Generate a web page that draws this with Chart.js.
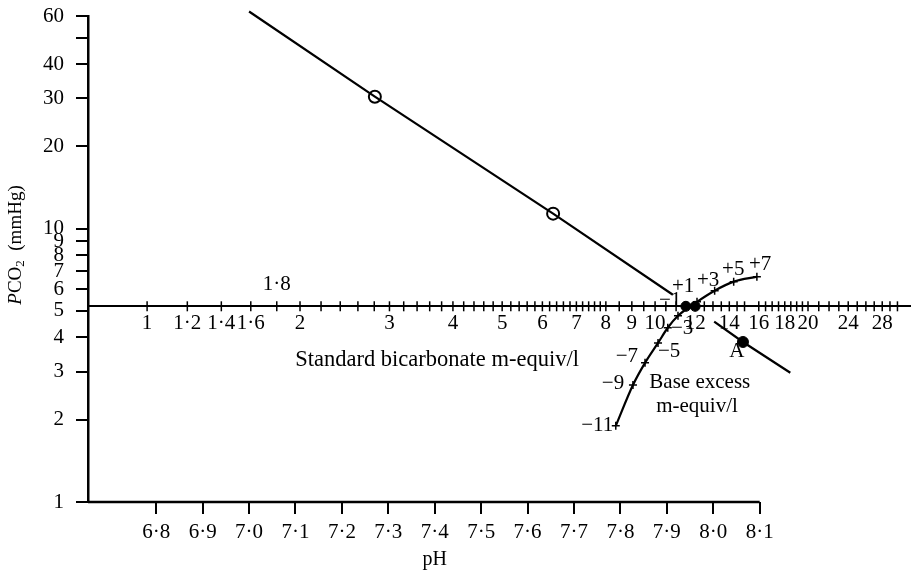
<!DOCTYPE html>
<html><head><meta charset="utf-8">
<script src="https://cdn.jsdelivr.net/npm/chart.js@4.4.1/dist/chart.umd.min.js"></script>
<style>html,body{margin:0;padding:0;background:#fff;overflow:hidden}#wrap{width:911px;height:576px;position:relative}</style>
</head><body><div id="wrap"><canvas id="c"></canvas></div>
<script>
// ---- axes ----
const phTicks = [6.8, 6.9, 7.0, 7.1, 7.2, 7.3, 7.4, 7.5, 7.6, 7.7, 7.8, 7.9, 8.0, 8.1];
const pco2Ticks = [1, 2, 3, 4, 5, 6, 7, 8, 9, 10, 20, 30, 40, 50, 60];
const pco2Labelled = [1, 2, 3, 4, 5, 6, 7, 8, 9, 10, 20, 30, 40, 60];
// standard bicarbonate scale (m-equiv/l), drawn along PCO2 = hco3Level
const hco3Level = 5.2;
const hco3Labels = [1, 1.2, 1.4, 1.6, 2, 3, 4, 5, 6, 7, 8, 9, 10, 12, 14, 16, 18, 20, 24, 28];
const hco3Marks = [1, 1.2, 1.4, 1.6, 1.8, 2, 2.2, 2.4, 2.6, 2.8, 3, 3.2, 3.4, 3.6, 3.8, 4, 4.2, 4.4, 4.6, 4.8,
  5, 5.2, 5.4, 5.6, 5.8, 6, 6.2, 6.4, 6.6, 6.8, 7, 7.2, 7.4, 7.6, 7.8, 8, 8.5, 9, 9.5, 10, 10.5, 11, 11.5,
  12, 12.5, 13, 13.5, 14, 14.5, 15, 16, 16.5, 17, 17.5, 18, 18.5, 19, 19.5, 20, 21, 22, 23, 24, 25, 26, 27, 28, 29, 30];

// ---- CO2 equilibration line ----
const linePH = [7.00, 7.271, 7.655, 7.913, 7.96, 8.002, 8.064, 8.166];
const linePCO2 = [62.3, 30.4, 11.35, 5.73, null, 4.57, 3.85, 2.97];
const circlePH = [7.271, 7.655];
const circlePCO2 = [30.4, 11.35];
const pointAPH = [8.064];
const pointAPCO2 = [3.85];
const junctionPH = [7.941, 7.961];
const junctionPCO2 = [5.2, 5.2];

// ---- base excess curve ----
const beValues = [-11, -9, -7, -5, -3, -1, 1, 3, 5, 7];
const bePH = [7.790, 7.827, 7.853, 7.881, 7.902, 7.924, 7.965, 8.003, 8.044, 8.094];
const bePCO2 = [1.90, 2.68, 3.23, 3.82, 4.34, 4.80, 5.40, 5.93, 6.40, 6.67];

// ---- range ----
const phMin = 6.653, phMax = 8.426;
const pco2Min = 1, pco2Max = 60;
const hco3Min = 0.765, hco3Max = 31.9;

const pts = (xs, ys) => xs.map((x, i) => ({x: x, y: ys[i]}));
const dot = v => String(v).replace('.', '\u00B7');
const SERIF = "'Liberation Serif', 'Times New Roman', serif";

// text annotations (anchored in data coordinates)
const notes = [
  {t: '1\u00B78', ax: 'hco3', x: 1.8, y: 6.24},
  {t: 'Standard bicarbonate m-equiv/l', x: 7.405, y: 3.31, size: 22.5},
  {t: 'Base excess', x: 7.971, y: 2.73},
  {t: 'm-equiv/l', x: 7.965, y: 2.23},
  {t: 'A', x: 8.051, y: 3.54},
  {t: '\u221211', x: 7.750, y: 1.91},
  {t: '\u22129', x: 7.784, y: 2.71},
  {t: '\u22127', x: 7.814, y: 3.40},
  {t: '\u22125', x: 7.905, y: 3.54},
  {t: '\u22123', x: 7.933, y: 4.30},
  {t: '\u22121', x: 7.907, y: 5.45},
  {t: '+1', x: 7.935, y: 6.13},
  {t: '+3', x: 7.989, y: 6.45},
  {t: '+5', x: 8.043, y: 7.07},
  {t: '+7', x: 8.101, y: 7.38}
];

const notesPlugin = {
  id: 'notes',
  afterDatasetsDraw(chart) {
    const {ctx, scales, chartArea} = chart;
    ctx.save();
    ctx.fillStyle = '#000';
    ctx.textBaseline = 'middle';
    ctx.textAlign = 'center';
    for (const n of notes) {
      ctx.font = (n.size || 21) + 'px ' + SERIF;
      const px = scales[n.ax || 'x'].getPixelForValue(n.x);
      const py = scales.y.getPixelForValue(n.y);
      ctx.fillText(n.t, px, py);
    }
    // x title "pH"
    ctx.font = '20px ' + SERIF;
    ctx.fillText('pH', scales.x.getPixelForValue(7.4), chartArea.bottom + 58);
    // y title "PCO2 (mmHg)"
    const parts = [
      {t: 'P', f: 'italic 19px ' + SERIF, dy: 0},
      {t: 'CO', f: '19px ' + SERIF, dy: 0},
      {t: '2', f: '13px ' + SERIF, dy: 5},
      {t: '  (mmHg)', f: '19px ' + SERIF, dy: 0}
    ];
    let total = 0;
    for (const p of parts) { ctx.font = p.f; p.w = ctx.measureText(p.t).width; total += p.w; }
    ctx.translate(16, (chartArea.top + chartArea.bottom) / 2 - 14);
    ctx.rotate(-Math.PI / 2);
    ctx.textAlign = 'left';
    let cx = -total / 2;
    for (const p of parts) { ctx.font = p.f; ctx.fillText(p.t, cx, p.dy); cx += p.w; }
    ctx.restore();
  }
};

const tickFont = {family: SERIF, size: 21};

new Chart(document.getElementById('c'), {
  type: 'line',
  data: {
    datasets: [
      { // pH axis baseline
        data: pts([phMin, 8.1], [pco2Min, pco2Min]),
        borderColor: '#000', borderWidth: 2.5, pointRadius: 0, clip: false
      },
      { // CO2 equilibration line
        data: pts(linePH, linePCO2),
        borderColor: '#000', borderWidth: 2.2, pointRadius: 0, spanGaps: false, clip: false
      },
      { // base excess curve
        data: pts(bePH, bePCO2),
        borderColor: '#000', borderWidth: 2.2, cubicInterpolationMode: 'monotone',
        pointStyle: 'cross', pointRadius: 4, pointBorderWidth: 1.5, pointBorderColor: '#000', clip: false
      },
      { // bicarbonate scale marks
        xAxisID: 'hco3',
        data: hco3Marks.map(v => ({x: v, y: hco3Level})),
        showLine: false, pointStyle: 'line', rotation: 90, pointRadius: 5,
        pointBorderWidth: 1.5, pointBorderColor: '#000', clip: false
      },
      { // open circles
        data: pts(circlePH, circlePCO2),
        showLine: false, pointRadius: 6, pointBorderWidth: 2,
        pointBorderColor: '#000', pointBackgroundColor: '#fff', clip: false
      },
      { // point A
        data: pts(pointAPH, pointAPCO2),
        showLine: false, pointRadius: 5.5, pointBorderWidth: 1,
        pointBorderColor: '#000', pointBackgroundColor: '#000', clip: false
      },
      { // junction
        data: pts(junctionPH, junctionPCO2),
        showLine: false, pointRadius: 5, pointBorderWidth: 1,
        pointBorderColor: '#000', pointBackgroundColor: '#000', clip: false
      }
    ]
  },
  options: {
    responsive: true, maintainAspectRatio: false, animation: false,
    layout: {autoPadding: false, padding: {top: 16, right: 0, bottom: 0, left: 0}},
    plugins: {legend: {display: false}, tooltip: {enabled: false}},
    elements: {line: {tension: 0}},
    scales: {
      x: {
        type: 'linear', position: 'bottom', min: phMin, max: phMax,
        afterBuildTicks: s => { s.ticks = phTicks.map(v => ({value: v})); },
        afterFit: s => { s.height = 74; s.paddingLeft = 0; s.paddingRight = 0; },
        border: {display: false},
        grid: {drawOnChartArea: false, drawTicks: true, tickLength: 12, color: '#000', lineWidth: 2},
        ticks: {autoSkip: false, maxRotation: 0, padding: 6, color: '#000', font: tickFont,
          callback: v => Number(v).toFixed(1).replace('.', '\u00B7')}
      },
      y: {
        type: 'logarithmic', position: 'left', min: pco2Min, max: pco2Max,
        afterBuildTicks: s => { s.ticks = pco2Ticks.map(v => ({value: v})); },
        afterFit: s => { s.width = 88; s.paddingTop = 0; s.paddingBottom = 0; },
        border: {display: true, color: '#000', width: 2.5},
        grid: {drawOnChartArea: false, drawTicks: true, tickLength: 12, color: '#000', lineWidth: 2},
        ticks: {autoSkip: false, padding: 12, color: '#000', font: tickFont,
          callback: v => pco2Labelled.includes(v) ? String(v) : ''}
      },
      hco3: {
        type: 'logarithmic', axis: 'x', position: {y: hco3Level}, min: hco3Min, max: hco3Max,
        afterBuildTicks: s => { s.ticks = hco3Labels.map(v => ({value: v})); },
        afterFit: s => { s.paddingLeft = 0; s.paddingRight = 0; },
        border: {display: true, color: '#000', width: 2},
        grid: {display: false, drawTicks: false},
        ticks: {autoSkip: false, maxRotation: 0, padding: 5, color: '#000', font: tickFont,
          callback: v => dot(v)}
      }
    }
  },
  plugins: [notesPlugin]
});
</script>
</body></html>
